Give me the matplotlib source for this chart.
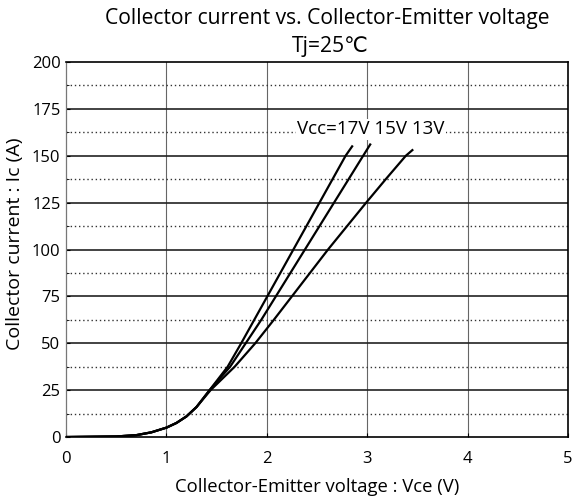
import matplotlib
matplotlib.use("Agg")
import matplotlib.pyplot as plt
import numpy as np

plt.rcParams['font.family'] = ['Open Sans', 'DejaVu Sans']

# Ic-Vce curves (V, A)
vce_17 = [0, 0.5, 0.7, 0.85, 1.0, 1.1, 1.2, 1.3, 1.43, 1.61, 1.745, 1.875, 2.005, 2.135, 2.265, 2.395, 2.525, 2.655, 2.785, 2.85]
ic_17 = [0, 0.3, 1.0, 2.5, 5.0, 7.5, 11, 16, 25, 37.5, 50, 62.5, 75, 87.5, 100, 112.5, 125, 137.5, 150, 155]

vce_15 = [0, 0.5, 0.7, 0.85, 1.0, 1.1, 1.2, 1.3, 1.43, 1.635, 1.79, 1.945, 2.09, 2.235, 2.38, 2.525, 2.67, 2.815, 2.96, 3.03]
ic_15 = [0, 0.3, 1.0, 2.5, 5.0, 7.5, 11, 16, 25, 37.5, 50, 62.5, 75, 87.5, 100, 112.5, 125, 137.5, 150, 156]

vce_13 = [0, 0.5, 0.7, 0.85, 1.0, 1.1, 1.2, 1.3, 1.44, 1.68, 1.885, 2.07, 2.25, 2.43, 2.61, 2.80, 2.99, 3.185, 3.385, 3.45]
ic_13 = [0, 0.3, 1.0, 2.5, 5.0, 7.5, 11, 16, 25, 37.5, 50, 62.5, 75, 87.5, 100, 112.5, 125, 137.5, 150, 153]

x_ticks = [0, 1, 2, 3, 4, 5]
y_ticks = [0, 25, 50, 75, 100, 125, 150, 175, 200]
y_minor = [12.5, 37.5, 62.5, 87.5, 112.5, 137.5, 162.5, 187.5]

fig = plt.figure(figsize=(5.75, 4.99), dpi=100)
ax = fig.add_axes([0.1148, 0.1242, 0.8730, 0.7516])

# grid: solid at majors, dotted halfway between on y
for v in x_ticks[1:-1]:
    ax.axvline(v, color='#666666', lw=0.8, zorder=1)
for v in y_ticks[1:-1]:
    ax.axhline(v, color='#222222', lw=1.2, zorder=1)
for v in y_minor:
    ax.axhline(v, color='#333333', lw=1.0, ls=(0, (1.0, 2.0)), zorder=1)

for vx, iy in [(vce_17, ic_17), (vce_15, ic_15), (vce_13, ic_13)]:
    ax.plot(vx, iy, color='black', lw=1.6, zorder=3)

ax.text(2.30, 164, 'Vcc=17V 15V 13V', fontsize=13.5, va='center', ha='left',
        bbox=dict(facecolor='white', edgecolor='none', pad=1), zorder=4)

ax.set_xlim(0, 5)
ax.set_ylim(0, 200)
ax.set_xticks(x_ticks)
ax.set_yticks(y_ticks)
ax.set_yticks(y_minor, minor=True)
ax.tick_params(axis='both', direction='in', length=3, labelsize=12, width=0.8)
ax.tick_params(axis='x', pad=10)
ax.tick_params(axis='y', pad=4)
ax.tick_params(which='minor', direction='in', length=2)
for s in ax.spines.values():
    s.set_linewidth(1.2)
ax.spines['left'].set_color('#777777')
ax.spines['left'].set_linewidth(0.9)

ax.set_xlabel('Collector-Emitter voltage : Vce (V)', fontsize=13.3)
ax.xaxis.set_label_coords(0.5, -0.110)
ax.set_ylabel('Collector current : Ic (A)', fontsize=14)
ax.yaxis.set_label_coords(-0.084, 0.515)

fig.text(0.569, 0.962, 'Collector current vs. Collector-Emitter voltage',
         fontsize=15.2, ha='center', va='center')
fig.text(0.575, 0.906, 'Tj=25℃', fontsize=15.2, ha='center', va='center')

fig.savefig('out.png', dpi=100)
